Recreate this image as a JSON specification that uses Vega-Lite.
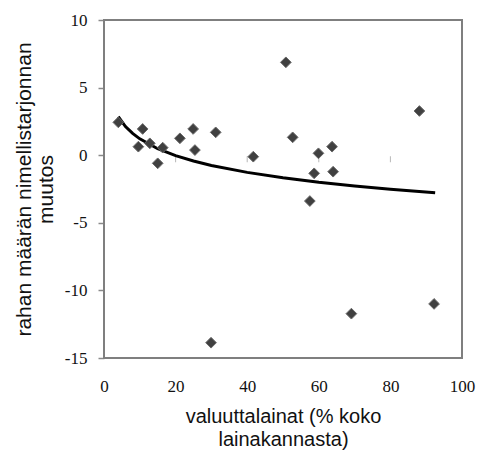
{
  "$schema": "https://vega.github.io/schema/vega-lite/v6.json",
  "autosize": {"type": "none"},
  "padding": {"left": 104, "top": 20, "right": 15, "bottom": 92},
  "width": 358,
  "height": 338,
  "background": "white",
  "config": {
    "view": {"stroke": "#7f7f7f", "strokeWidth": 2},
    "axis": {"grid": false, "domain": false}
  },
  "datasets": {
    "points": [
      {"x": 4.0, "y": 2.43}, {"x": 10.8, "y": 1.94}, {"x": 9.6, "y": 0.63},
      {"x": 12.8, "y": 0.88}, {"x": 16.4, "y": 0.56}, {"x": 15.0, "y": -0.6},
      {"x": 21.2, "y": 1.25}, {"x": 24.9, "y": 1.94}, {"x": 25.4, "y": 0.38},
      {"x": 31.2, "y": 1.69}, {"x": 41.7, "y": -0.11}, {"x": 50.8, "y": 6.87},
      {"x": 52.7, "y": 1.32}, {"x": 59.9, "y": 0.14}, {"x": 63.7, "y": 0.63},
      {"x": 88.1, "y": 3.27}, {"x": 58.7, "y": -1.34}, {"x": 64.0, "y": -1.22},
      {"x": 57.5, "y": -3.39}, {"x": 29.9, "y": -13.87}, {"x": 69.1, "y": -11.72},
      {"x": 92.2, "y": -11.0}
    ],
    "trend": [
      {"x": 4, "y": 2.85}, {"x": 6, "y": 2.12}, {"x": 8, "y": 1.61},
      {"x": 10, "y": 1.21}, {"x": 15, "y": 0.48}, {"x": 20, "y": -0.03},
      {"x": 25, "y": -0.43}, {"x": 30, "y": -0.76}, {"x": 40, "y": -1.27},
      {"x": 50, "y": -1.67}, {"x": 60, "y": -2.0}, {"x": 70, "y": -2.27},
      {"x": 80, "y": -2.51}, {"x": 92.5, "y": -2.77}
    ],
    "xticks": [{"x": 20, "y": 0}, {"x": 40, "y": 0}, {"x": 60, "y": 0}, {"x": 80, "y": 0}],
    "frame": [{"id": 1}]
  },
  "layer": [
    {
      "data": {"name": "xticks"},
      "mark": {"type": "tick", "orient": "vertical", "size": 6, "thickness": 1, "color": "#999999", "yOffset": 4},
      "encoding": {
        "x": {"field": "x", "type": "quantitative", "scale": {"domain": [0, 100], "nice": false},
          "axis": {"values": [0, 20, 40, 60, 80, 100], "ticks": false, "labelPadding": 20, "labelFlush": false,
            "labelFont": "serif", "labelFontSize": 17, "labelColor": "#111",
            "labelExpr": "'' + datum.value",
            "title": ["valuuttalainat (% koko", "lainakannasta)"],
            "titleFont": "Liberation Sans", "titleFontSize": 20, "titleFontWeight": "normal",
            "titleColor": "#111", "titlePadding": 12, "titleLineHeight": 23}},
        "y": {"field": "y", "type": "quantitative", "scale": {"domain": [-15, 10], "nice": false},
          "axis": {"values": [-15, -10, -5, 0, 5, 10], "ticks": true, "tickSize": 6, "tickWidth": 1.5, "tickColor": "#8a8a8a", "labelFlush": false,
            "labelPadding": 11, "labelFont": "serif", "labelFontSize": 17, "labelColor": "#111",
            "labelExpr": "'' + datum.value",
            "title": ["rahan määrän nimellistarjonnan", "muutos"],
            "titleFont": "Liberation Sans", "titleFontSize": 21, "titleFontWeight": "normal",
            "titleColor": "#111", "titlePadding": 8, "titleLineHeight": 22}}
      }
    },
    {
      "data": {"name": "frame"},
      "mark": {"type": "rect", "fill": "transparent", "stroke": "#7f7f7f", "strokeWidth": 2},
      "encoding": {}
    },
    {
      "data": {"name": "trend"},
      "mark": {"type": "line", "color": "#000", "strokeWidth": 3},
      "encoding": {
        "x": {"field": "x", "type": "quantitative"},
        "y": {"field": "y", "type": "quantitative"}
      }
    },
    {
      "data": {"name": "points"},
      "mark": {"type": "point", "shape": "diamond", "filled": true, "size": 115, "color": "#404040", "stroke": "#6a6a6a", "strokeWidth": 1, "opacity": 1},
      "encoding": {
        "x": {"field": "x", "type": "quantitative"},
        "y": {"field": "y", "type": "quantitative"}
      }
    }
  ]
}
